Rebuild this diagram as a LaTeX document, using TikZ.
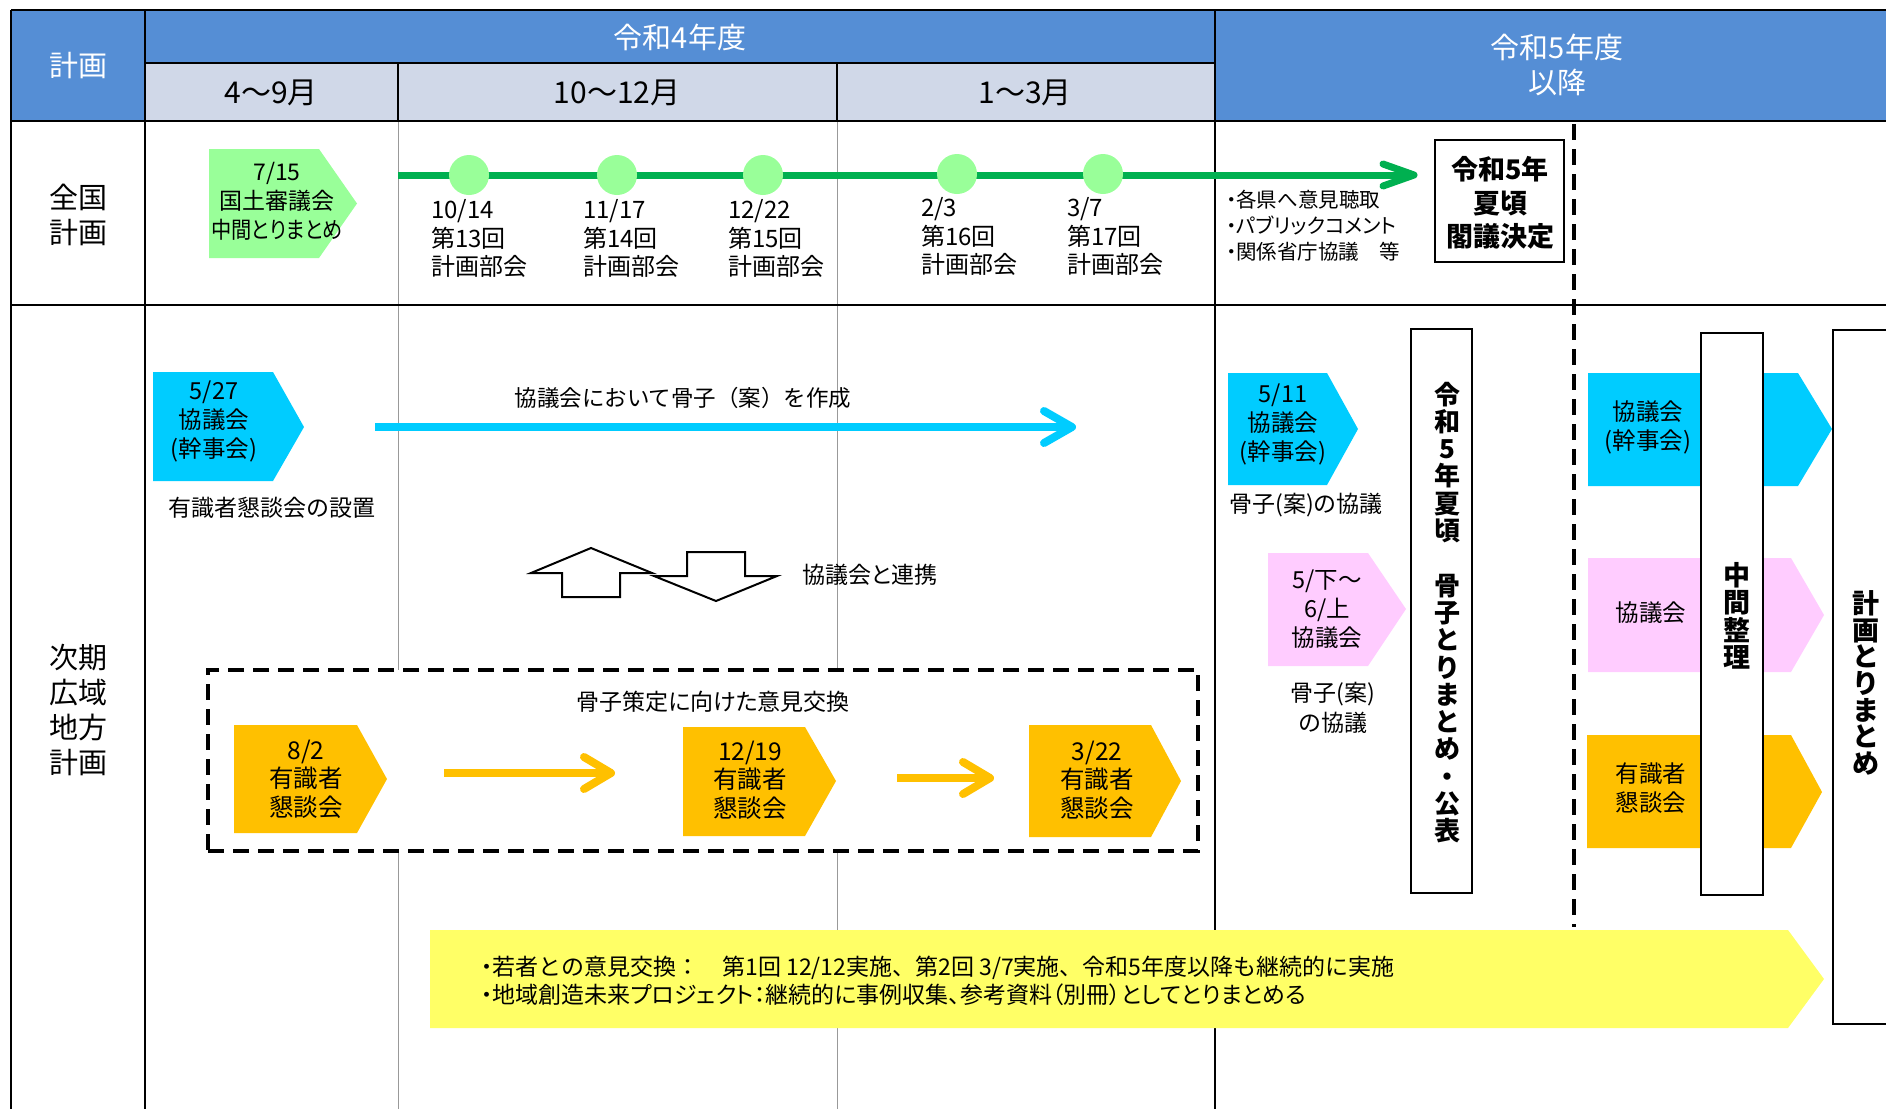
\documentclass[tikz,border=0pt]{standalone}
\usepackage{fontspec}
\setmainfont{Noto Sans CJK JP}
\newfontfamily\pfont{Noto Sans CJK JP}[RawFeature={+palt}]
\newfontfamily\cfont{Noto Sans CJK JP}[RawFeature={+palt}, FakeStretch=0.88]
\usetikzlibrary{calc}
\definecolor{hdrblue}{HTML}{558ED5}
\definecolor{subhdr}{HTML}{D0D8E8}
\definecolor{pgreen}{HTML}{99FF99}
\definecolor{lgreen}{HTML}{00B050}
\definecolor{pcyan}{HTML}{00CCFF}
\definecolor{porange}{HTML}{FFC000}
\definecolor{ppink}{HTML}{FFCCFF}
\definecolor{pyellow}{HTML}{FFFF66}
\tikzset{
 base/.style={inner sep=0pt, align=center},
 hdtxt/.style={base, text=white, font=\fontsize{29}{35}\selectfont},
 mtxt/.style={base, font=\fontsize{30}{35}\selectfont},
 rowtxt/.style={base, font=\fontsize{29}{35.3}\selectfont},
 ptxt/.style={base, font=\fontsize{23.5}{29}\selectfont},
 dtxt/.style={base, align=left, font=\fontsize{24}{28.5}\selectfont},
 ltxt/.style={base, font=\pfont\fontsize{23}{29}\selectfont},
 smtxt/.style={base, align=left, font=\pfont\fontsize{20.5}{26}\selectfont},
 btxt/.style={base, font=\fontsize{27}{33.5}\selectfont\bfseries},
 vtxt/.style={base, font=\fontsize{26}{27.3}\selectfont\bfseries},
 boxln/.style={draw, line width=2pt, fill=white, inner sep=0pt},
 thickln/.style={line width=2.5pt, black},
 thinln/.style={line width=1pt, black!40},
 dashln/.style={line width=3.5pt, dash pattern=on 16pt off 9pt},
 circ/.style={circle, fill=pgreen, minimum size=40pt, inner sep=0pt},
 chev/.style={line cap=round, line join=round},
 blockarrow/.style={draw, line width=2pt, fill=white, line join=miter},
}
\begin{document}
\begin{tikzpicture}[x=1pt,y=-1pt]
\useasboundingbox (0,0) rectangle (1886,1109);
\clip (0,0) rectangle (1886,1109);

% ---------- header fills ----------
\fill[hdrblue] (11,10) rectangle (1886,121);
\fill[subhdr] (145,63) rectangle (1215,121);

% ---------- thin grid lines ----------
\draw[thinln] (398,121) -- (398,1109);
\draw[thinln] (837,121) -- (837,1109);

% ---------- thick grid lines ----------
\draw[thickln] (11,10) -- (1886,10);
\draw[thickln] (145,63) -- (1215,63);
\draw[thickln] (11,121) -- (1886,121);
\draw[thickln] (11,305) -- (1886,305);
\draw[thickln] (11,10) -- (11,1109);
\draw[thickln] (145,10) -- (145,1109);
\draw[thickln] (1215,10) -- (1215,1109);
\draw[thickln] (398,63) -- (398,121);
\draw[thickln] (837,63) -- (837,121);

% ---------- header texts ----------
\node[hdtxt] (hkeikaku) at (78,66) {計画};
\node[hdtxt] (hr4) at (680,37) {令和4年度};
\node[hdtxt] (hr5) at (1557,65) {令和5年度\\以降};
\node[mtxt] (m1) at (271,93) {4〜9月};
\node[mtxt] (m2) at (617,93) {10〜12月};
\node[mtxt] (m3) at (1025,93) {1〜3月};

% ---------- row labels ----------
\node[rowtxt] (rzenkoku) at (78,215) {全国\\計画};
\node[rowtxt] (rjiki) at (78,710) {次期\\広域\\地方\\計画};

% ---------- national plan row ----------
\fill[pgreen] (209,149) -- (319,149) -- (357,203.5) -- (319,258) -- (209,258) -- cycle;
\node[ptxt, font=\pfont\fontsize{23}{29}\selectfont] (p715) at (277,201) {7/15\\国土審議会\\{\cfont 中間とりまとめ}};

\coordinate (gA) at (398,175);
\coordinate (gB) at (1414,175);
\draw[lgreen, line width=7pt] (gA) -- (gB);
\draw[lgreen, line width=7pt, chev] ($(gB)+(-31,-11)$) -- (gB) -- ($(gB)+(-31,11)$);

\node[circ] (c1) at (469,175) {};
\node[circ] (c2) at (617,175) {};
\node[circ] (c3) at (763,175) {};
\node[circ] (c4) at (957,174) {};
\node[circ] (c5) at (1103,174) {};

\node[dtxt, anchor=west] (d1) at (431,238.5) {10/14\\第13回\\計画部会};
\node[dtxt, anchor=west] (d2) at (583,238.5) {11/17\\第14回\\計画部会};
\node[dtxt, anchor=west] (d3) at (728,238.5) {12/22\\第15回\\計画部会};
\node[dtxt, anchor=west] (d4) at (921,236.5) {2/3\\第16回\\計画部会};
\node[dtxt, anchor=west] (d5) at (1067,236.5) {3/7\\第17回\\計画部会};

\node[smtxt, anchor=west] (bul) at (1226,226) {・各県へ意見聴取\\・パブリックコメント\\・関係省庁協議　等};

\node[boxln, minimum width=129pt, minimum height=122pt] (kakugibox) at (1499.5,201) {};
\node[btxt] (kakugi) at (1500,203) {令和5年\\夏頃\\閣議決定};

\coordinate (dv1) at (1574,124);
\coordinate (dv2) at (1574,927);
\draw[dashln] (dv1) -- (dv2);

% ---------- regional plan row ----------
\fill[pcyan] (153,372) -- (273,372) -- (304,427) -- (273,481) -- (153,481) -- cycle;
\node[ptxt] (p527) at (214,421) {5/27\\協議会\\(幹事会)};
\node[ltxt] (setchi) at (272,508) {有識者懇談会の設置};

\coordinate (cyA) at (375,427);
\coordinate (cyB) at (1072,427);
\draw[pcyan, line width=8pt] (cyA) -- (cyB);
\draw[pcyan, line width=8pt, chev] ($(cyB)+(-28,-16)$) -- (cyB) -- ($(cyB)+(-28,16)$);
\node[base, font=\fontsize{22.5}{29}\selectfont] (sakusei) at (683,398) {協議会において骨子（案）を作成};

\draw[blockarrow] (531,573) -- (591,548) -- (652,573) -- (620,573) -- (620,597) -- (562,597) -- (562,573) -- cycle;
\draw[blockarrow] (687,552) -- (745,552) -- (745,576) -- (777,576) -- (716,601) -- (654,576) -- (687,576) -- cycle;
\node[ltxt, anchor=west] (renkei) at (802,575) {協議会と連携};

\node[dashln, draw, fill=white, minimum width=990pt, minimum height=181pt, inner sep=0pt] (dbox) at (703,760.5) {};
\node[ltxt] (ikenkokan) at (713,702) {骨子策定に向けた意見交換};

\fill[porange] (234,725) -- (357,725) -- (387,779) -- (357,833) -- (234,833) -- cycle;
\node[ptxt, font=\fontsize{24.5}{28.5}\selectfont] (p82) at (306,779) {8/2\\有識者\\懇談会};
\fill[porange] (683,727) -- (805,727) -- (836,781) -- (805,836) -- (683,836) -- cycle;
\node[ptxt, font=\fontsize{24.5}{28.5}\selectfont] (p1219) at (750,780) {12/19\\有識者\\懇談会};
\fill[porange] (1029,725) -- (1151,725) -- (1181,781) -- (1151,837) -- (1029,837) -- cycle;
\node[ptxt, font=\fontsize{24.5}{28.5}\selectfont] (p322) at (1097,780) {3/22\\有識者\\懇談会};

\coordinate (oA) at (444,773);
\coordinate (oB) at (611,773);
\draw[porange, line width=8pt] (oA) -- (oB);
\draw[porange, line width=8pt, chev] ($(oB)+(-27,-16)$) -- (oB) -- ($(oB)+(-27,16)$);
\coordinate (oC) at (897,778);
\coordinate (oD) at (990,778);
\draw[porange, line width=8pt] (oC) -- (oD);
\draw[porange, line width=8pt, chev] ($(oD)+(-27,-16)$) -- (oD) -- ($(oD)+(-27,16)$);

% R5 column
\fill[pcyan] (1228,373) -- (1327,373) -- (1358,429) -- (1327,485) -- (1228,485) -- cycle;
\node[ptxt] (p511) at (1283,424) {5/11\\協議会\\(幹事会)};
\node[ltxt] (kyogi1) at (1306,505) {骨子(案)の協議};
\fill[ppink] (1268,553) -- (1368,553) -- (1406,609) -- (1368,666) -- (1268,666) -- cycle;
\node[ptxt] (p56) at (1327,609) {5/下〜\\6/上\\協議会};
\node[ltxt, font=\pfont\fontsize{23}{30}\selectfont] (kyogi2) at (1333,708) {骨子(案)\\の協議};

\node[boxln, minimum width=61pt, minimum height=564pt] (torimatome1) at (1441.5,611) {};
\node[vtxt] (tmtxt1) at (1447,612.5) {令\\和\\5\\年\\夏\\頃\\　\\骨\\子\\と\\り\\ま\\と\\め\\・\\公\\表};

% after R5
\fill[pcyan] (1588,373) -- (1798,373) -- (1832,429) -- (1798,486) -- (1588,486) -- cycle;
\node[ptxt] (pk1) at (1648,427) {協議会\\(幹事会)};
\fill[ppink] (1588,558) -- (1791,558) -- (1824,615) -- (1791,672) -- (1588,672) -- cycle;
\node[ptxt] (pk2) at (1651,613) {協議会};
\fill[porange] (1587,735) -- (1791,735) -- (1822,792) -- (1791,848) -- (1587,848) -- cycle;
\node[ptxt] (pk3) at (1651,788) {有識者\\懇談会};

\node[boxln, minimum width=62pt, minimum height=562pt] (chukanbox) at (1732,614) {};
\node[vtxt, font=\fontsize{27}{27.5}\selectfont\bfseries] (chukan) at (1737,616) {中\\間\\整\\理};

\node[boxln, minimum width=80pt, minimum height=694pt] (keikakubox) at (1873,677) {};
\node[vtxt, font=\fontsize{27}{26.7}\selectfont\bfseries] (keikaku) at (1866,683) {計\\画\\と\\り\\ま\\と\\め};

% yellow band
\fill[pyellow] (430,930) -- (1788,930) -- (1824,979) -- (1788,1028) -- (430,1028) -- cycle;
\node[base, align=left, anchor=west, font=\fontsize{23}{28}\selectfont] (wakamono) at (481,981)
 {{\pfont ・}若者との意見交換：　第1回 12/12実施、第2回 3/7実施、令和5年度以降も継続的に実施\\{\pfont ・地域創造未来プロジェクト：継続的に事例収集、参考資料（別冊）としてとりまとめる}};
\end{tikzpicture}
\end{document}
